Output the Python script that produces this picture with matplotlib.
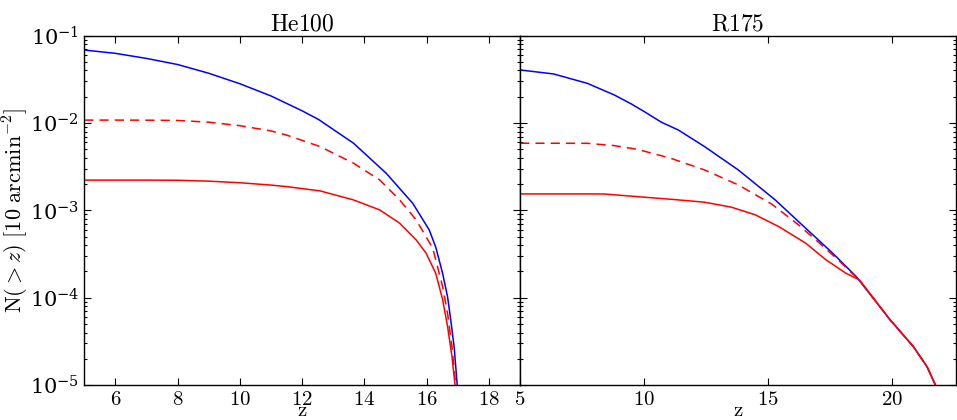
import numpy as np
import matplotlib
matplotlib.use('Agg')
import matplotlib.pyplot as plt
from matplotlib.ticker import FuncFormatter, LogLocator

plt.rcParams['mathtext.fontset'] = 'cm'
plt.rcParams['font.family'] = ['DejaVu Serif']

# values, given as log10 N(>z)

# He100 panel
he_z_blue = [5.0, 6.0, 7.0, 8.0, 9.0, 10.0, 11.0, 12.0, 12.53, 13.65, 14.7,
             15.55, 16.08, 16.29, 16.51, 16.67, 16.77, 16.88, 16.98]
he_log_blue = [-1.164, -1.202, -1.26, -1.33, -1.43, -1.55, -1.69, -1.86,
               -1.96, -2.231, -2.575, -2.918, -3.223, -3.42, -3.72, -3.99,
               -4.25, -4.56, -5.0]

he_z_dash = [5.0, 6.0, 7.0, 8.0, 9.0, 10.0, 11.0, 11.52, 12.58, 13.65, 14.49,
             15.13, 15.66, 16.19, 16.29, 16.51, 16.67, 16.81, 16.93]
he_log_dash = [-1.966, -1.966, -1.967, -1.97, -1.99, -2.03, -2.09, -2.14,
               -2.27, -2.46, -2.651, -2.88, -3.108, -3.43, -3.566, -3.87,
               -4.18, -4.56, -5.0]

he_z_red = [5.0, 6.0, 7.0, 8.0, 9.0, 10.0, 11.0, 11.52, 12.58, 13.65, 14.49,
            15.13, 15.66, 15.98, 16.29, 16.51, 16.67, 16.81, 16.91]
he_log_red = [-2.653, -2.653, -2.653, -2.655, -2.665, -2.683, -2.71, -2.728,
              -2.777, -2.88, -2.994, -3.146, -3.337, -3.49, -3.72, -4.02,
              -4.33, -4.67, -5.0]

# R175 panel
r_z_blue = [5.0, 6.35, 7.71, 8.8, 9.48, 10.02, 10.7, 11.39, 12.45, 13.81,
            15.3, 16.53, 17.62, 18.57, 19.93, 20.88, 21.43, 21.77]
r_log_blue = [-1.392, -1.438, -1.545, -1.678, -1.78, -1.87, -1.99, -2.08,
              -2.27, -2.537, -2.88, -3.204, -3.49, -3.757, -4.25, -4.56,
              -4.79, -5.0]

r_z_dash = [5.0, 6.35, 7.71, 8.8, 9.72, 11.08, 12.45, 13.81, 15.17, 16.26,
            17.07, 17.89, 18.7, 19.93, 20.88, 21.43, 21.77]
r_log_dash = [-2.231, -2.231, -2.232, -2.258, -2.30, -2.403, -2.537, -2.708,
              -2.93, -3.17, -3.37, -3.58, -3.8, -4.25, -4.56, -4.79, -5.0]

r_z_red = [5.0, 6.35, 7.71, 8.4, 9.72, 11.08, 12.45, 13.53, 14.49, 15.44,
           16.53, 17.35, 18.16, 18.7, 19.93, 20.88, 21.43, 21.77]
r_log_red = [-2.811, -2.811, -2.811, -2.812, -2.842, -2.872, -2.906, -2.963,
             -3.05, -3.185, -3.375, -3.566, -3.72, -3.795, -4.25, -4.56,
             -4.79, -5.0]

panels = [
    ('He100', (5, 19), [6, 8, 10, 12, 14, 16, 18],
     [(he_z_blue, he_log_blue, 'b', '-'), (he_z_dash, he_log_dash, 'r', '--'),
      (he_z_red, he_log_red, 'r', '-')]),
    ('R175', (5, 22.6), [5, 10, 15, 20],
     [(r_z_blue, r_log_blue, 'b', '-'), (r_z_dash, r_log_dash, 'r', '--'),
      (r_z_red, r_log_red, 'r', '-')]),
]

fig, axes = plt.subplots(1, 2, sharey=True, figsize=(9.57, 4.2), dpi=100)
fig.subplots_adjust(left=0.088, right=0.999, bottom=0.083, top=0.915, wspace=0)

for ax, (title, xlim, xticks, lines) in zip(axes, panels):
    for z, logn, c, ls in lines:
        n = 10.0 ** np.array(logn)
        if ls == '--':
            ax.semilogy(z, n, color=c, lw=1.1, dashes=(6, 4))
        else:
            ax.semilogy(z, n, color=c, lw=1.1)
    ax.set_xlim(*xlim)
    ax.set_ylim(1e-5, 1e-1)
    ax.set_xticks(xticks)
    ax.xaxis.set_major_formatter(FuncFormatter(lambda v, p: r'$%d$' % v))
    ax.yaxis.set_minor_locator(LogLocator(base=10, subs=np.arange(2, 10)))
    ax.tick_params(which='both', direction='in', top=True, right=True, labelsize=15)
    ax.tick_params(which='major', length=5, width=0.8)
    ax.tick_params(which='minor', length=2.5, width=0.8)
    ax.set_title(r'$\mathrm{%s}$' % title, fontsize=17, pad=3)
    ax.set_xlabel(r'$\mathrm{z}$', fontsize=15, labelpad=-6)
    for s in ax.spines.values():
        s.set_linewidth(1.0)

axes[0].set_ylabel(r'$\mathrm{N}(>z)\ [10\ \mathrm{arcmin}^{-2}]$', fontsize=16, labelpad=-1)

plt.savefig('out.png', dpi=100)
